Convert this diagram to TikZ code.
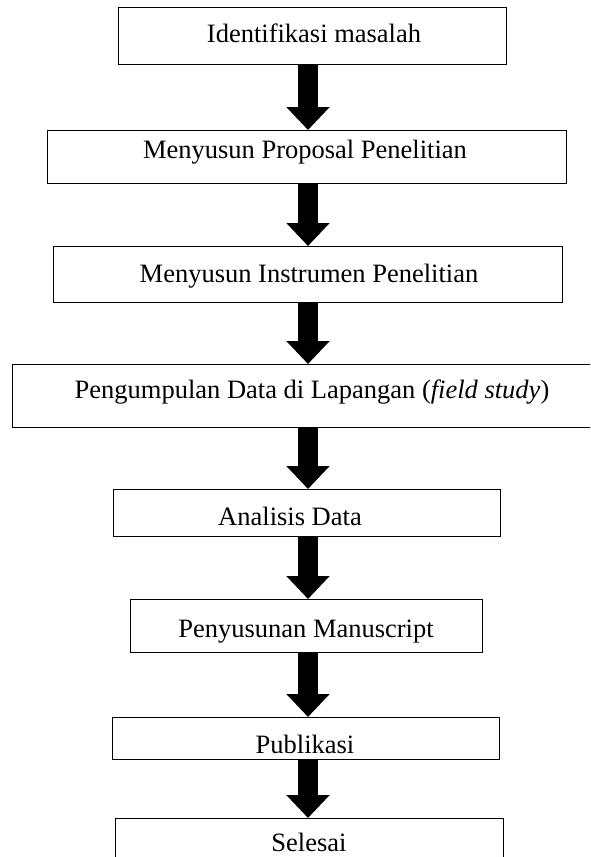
\documentclass[tikz,border=0pt]{standalone}
\usepackage{fontspec}
\setmainfont{Liberation Serif}
\usetikzlibrary{arrows.meta}
\tikzset{
	stepbox/.style = {draw, line width=1.2pt, inner sep=0pt, anchor=north west},
	steptext/.style = {anchor=base, inner sep=0pt, font=\fontsize{26.5}{30}\selectfont},
	flow/.style = {line width=20pt, -{Triangle[length=23pt, width=42pt]}}
}

\begin{document}
\begin{tikzpicture}[x=1pt, y=-1pt]
	\useasboundingbox (0,0) rectangle (590,857);
	\clip (0,0) rectangle (590,857);
	\coordinate (axis) at (308,0);
	% boxes: name / left / top / right / bottom
	\foreach \name/\xa/\ya/\xb/\yb in {identifikasi/118/7/506/64, proposal/47/130/566/183,
		instrumen/53/246/562/302, lapangan/12/364/612/427, analisis/113/489/500/536,
		manuskrip/130/599/482/652, publikasi/112/717/499/759, selesai/115/818/503/880}
	{
		\node[stepbox, minimum width={\xb-\xa}, minimum height={\yb-\ya}] (\name) at (\xa,\ya) {};
	}
	\node[steptext] (t-identifikasi) at (314,42) {Identifikasi masalah};
	\node[steptext] (t-proposal) at (305,158) {Menyusun Proposal Penelitian};
	\node[steptext] (t-instrumen) at (309,282) {Menyusun Instrumen Penelitian};
	\node[steptext] (t-lapangan) at (312,398) {Pengumpulan Data di Lapangan (\textit{field study})};
	\node[steptext] (t-analisis) at (290,525) {Analisis Data};
	\node[steptext] (t-manuskrip) at (306,637) {Penyusunan Manuscript};
	\node[steptext] (t-publikasi) at (305,753) {Publikasi};
	\node[steptext] (t-selesai) at (309,851) {Selesai};
	% arrows
	\foreach \a/\b in {identifikasi/proposal, proposal/instrumen, instrumen/lapangan,
		lapangan/analisis, analisis/manuskrip, manuskrip/publikasi, publikasi/selesai}
	{
		\draw[flow] (\a.south -| axis) -- (\b.north -| axis);
	}
\end{tikzpicture}
\end{document}
